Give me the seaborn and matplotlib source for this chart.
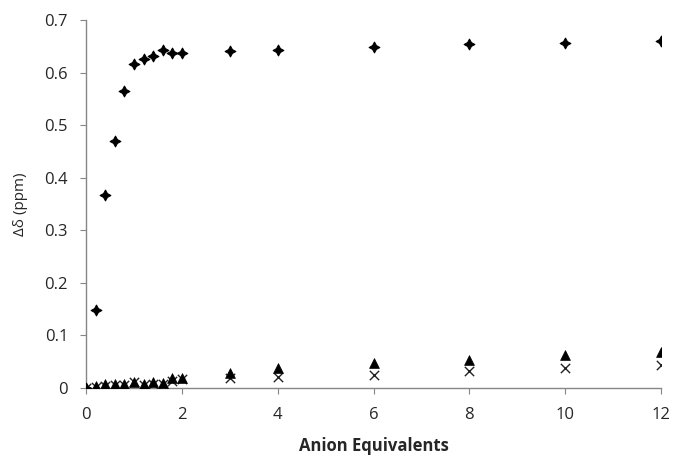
import numpy as np
import pandas as pd
import matplotlib.pyplot as plt
import seaborn as sns

# Titration data
equiv = [0, 0.2, 0.4, 0.6, 0.8, 1.0, 1.2, 1.4, 1.6, 1.8, 2.0, 3, 4, 6, 8, 10, 12]
shift_a = [0.0, 0.148, 0.367, 0.470, 0.566, 0.617, 0.627, 0.632, 0.643, 0.638, 0.638,
           0.641, 0.644, 0.649, 0.654, 0.657, 0.660]
shift_b = [0.0, 0.003, 0.008, 0.007, 0.007, 0.012, 0.007, 0.011, 0.009, 0.018, 0.019,
           0.028, 0.037, 0.047, 0.053, 0.062, 0.069]
shift_c = [0.0, 0.002, 0.004, 0.006, 0.005, 0.012, 0.006, 0.008, 0.008, 0.014, 0.017,
           0.018, 0.021, 0.025, 0.032, 0.037, 0.043]

df = pd.concat([
    pd.DataFrame({"equiv": equiv, "shift": shift_c, "proton": "c"}),
    pd.DataFrame({"equiv": equiv, "shift": shift_b, "proton": "b"}),
    pd.DataFrame({"equiv": equiv, "shift": shift_a, "proton": "a"}),
])

sns.set_style("white")
plt.rcParams["font.family"] = ["Open Sans", "DejaVu Sans"]

fig = plt.figure(figsize=(6.73, 4.58), dpi=100)
ax = fig.add_axes([0.128, 0.153, 0.854, 0.803])

# crosses
sns.scatterplot(data=df[df["proton"] == "c"], x="equiv", y="shift", marker="x",
                color="#222222", s=45, linewidth=1.0, ax=ax, zorder=3)
# triangles
sns.scatterplot(data=df[df["proton"] == "b"], x="equiv", y="shift", marker="^",
                color="black", s=50, edgecolor="black", linewidth=0.5, ax=ax, zorder=3)
# diamonds
sns.scatterplot(data=df[df["proton"] == "a"], x="equiv", y="shift", marker=(4, 1, 0),
                color="black", s=60, edgecolor="black", linewidth=0.8, ax=ax, zorder=3)

ax.set_xlim(0, 12)
ax.set_ylim(0, 0.7)
ax.set_xticks(np.arange(0, 13, 2))
ax.set_yticks(np.arange(0, 0.71, 0.1))
ax.set_yticklabels(["0"] + [f"{v:.1f}" for v in np.arange(0.1, 0.71, 0.1)])

ax.set_xlabel("Anion Equivalents", fontsize=12, fontweight="bold", labelpad=10)
ax.set_ylabel("Δδ (ppm)", fontsize=11, labelpad=12)

for side in ["top", "right"]:
    ax.spines[side].set_visible(False)
for side in ["left", "bottom"]:
    ax.spines[side].set_color("#868686")
    ax.spines[side].set_linewidth(1.0)
ax.tick_params(axis="both", which="major", direction="out", length=4, color="#868686",
               labelsize=12, bottom=True, left=True)
ax.tick_params(axis="x", pad=10)
ax.tick_params(axis="y", pad=9)
ax.grid(False)

fig.savefig("out.png", dpi=100)
